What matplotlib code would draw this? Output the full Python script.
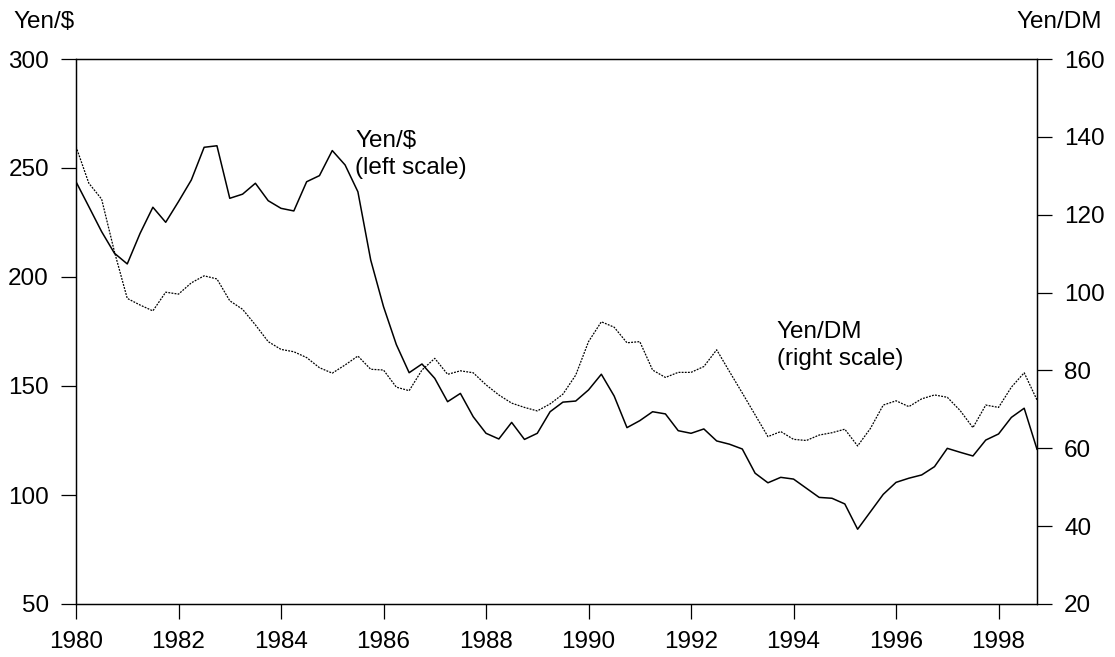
import numpy as np
import matplotlib.pyplot as plt

plt.rcParams['font.family'] = ['Liberation Sans', 'DejaVu Sans']

# quarterly observations, 1980Q1 .. 1998Q4
quarters = 1980 + np.arange(76) / 4.0

yen_usd = [243.7, 232.3, 220.8, 210.9, 206.0, 220.0, 232.0, 225.1, 234.6, 244.5,
           259.5, 260.2, 236.1, 238.0, 243.0, 235.0, 231.5, 230.3, 243.7, 246.5,
           258.0, 251.4, 239.1, 207.8, 186.4, 169.0, 156.1, 160.1, 153.5, 142.8,
           146.6, 135.9, 128.3, 125.7, 133.3, 125.5, 128.3, 138.2, 142.6, 143.1,
           148.2, 155.4, 145.4, 130.9, 134.1, 138.2, 137.2, 129.5, 128.3, 130.3,
           124.8, 123.3, 121.1, 110.0, 105.6, 108.1, 107.3, 103.1, 98.9, 98.5,
           95.9, 84.3, 92.3, 100.3, 105.8, 107.7, 109.2, 113.0, 121.4, 119.6,
           117.9, 125.2, 128.0, 135.6, 139.8, 121.0]

yen_dm = [137.5, 128.1, 124.0, 110.5, 98.5, 96.8, 95.3, 100.1, 99.6, 102.5,
          104.3, 103.5, 97.9, 95.7, 91.7, 87.4, 85.4, 84.8, 83.3, 80.7,
          79.3, 81.4, 83.7, 80.3, 80.1, 75.7, 74.8, 80.1, 83.1, 79.0,
          79.9, 79.4, 76.3, 73.7, 71.6, 70.5, 69.6, 71.4, 73.9, 78.8,
          87.4, 92.5, 91.1, 87.1, 87.4, 80.1, 78.2, 79.5, 79.5, 81.0,
          85.3, 79.7, 74.2, 68.6, 63.0, 64.3, 62.3, 62.0, 63.4, 64.0,
          64.9, 60.6, 65.1, 71.1, 72.2, 70.7, 72.7, 73.7, 73.1, 69.7,
          65.3, 71.1, 70.5, 75.7, 79.4, 72.4]

year_ticks = list(range(1980, 2000, 2))
left_ticks = list(range(50, 301, 50))
right_ticks = list(range(20, 161, 20))

fs = 17.5

fig = plt.figure(figsize=(11.15, 6.57), dpi=100)
ax = fig.add_axes([76/1115, 53/657, 961/1115, 545/657])
ax2 = ax.twinx()

ax.plot(quarters, yen_usd, color='black', linewidth=1.1)
ax2.plot(quarters, yen_dm, color='black', linewidth=0.9, linestyle=(0, (1.5, 1)))

ax.set_xlim(1980, 1998.75)
ax.set_ylim(50, 300)
ax2.set_ylim(20, 160)
ax.set_xticks(year_ticks)
ax.set_yticks(left_ticks)
ax2.set_yticks(right_ticks)

for a in (ax, ax2):
    a.tick_params(direction='out', length=10.5, width=0.9, pad=9, labelsize=fs)
    for s in a.spines.values():
        s.set_linewidth(0.9)

ax.text(1985.45, 267.5, 'Yen/$\n(left scale)', fontsize=fs, va='top', ha='left',
        linespacing=1.3)
ax.text(1993.67, 180.0, 'Yen/DM\n(right scale)', fontsize=fs, va='top', ha='left',
        linespacing=1.3)

fig.text(13/1115, 1 - 11/657, 'Yen/$', fontsize=fs, va='top', ha='left')
fig.text(1102/1115, 1 - 11/657, 'Yen/DM', fontsize=fs, va='top', ha='right')

fig.savefig('out.png', dpi=100)
